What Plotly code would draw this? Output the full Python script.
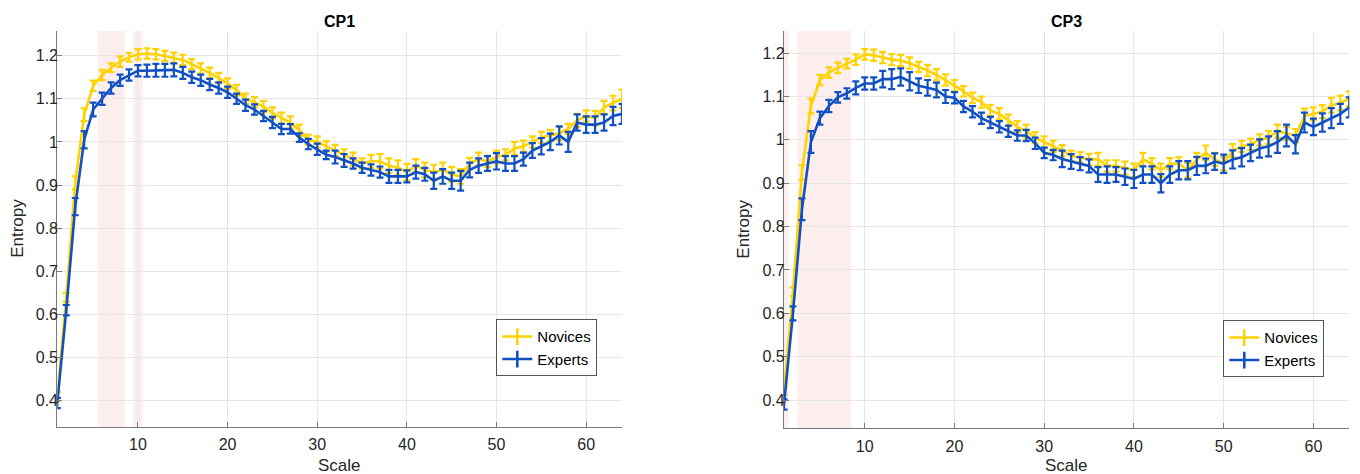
import plotly.graph_objects as go

W, H = 1360, 474

scale = list(range(1, 65))

cp1_novices = [0.41, 0.64, 0.905, 1.063, 1.13, 1.155, 1.172, 1.186, 1.196, 1.203,
               1.205, 1.203, 1.199, 1.195, 1.19, 1.18, 1.17, 1.16, 1.148, 1.135,
               1.12, 1.10, 1.092, 1.082, 1.067, 1.055, 1.045, 1.027, 1.005, 1.0,
               0.99, 0.98, 0.97, 0.96, 0.95, 0.955, 0.955, 0.945, 0.94, 0.93,
               0.945, 0.935, 0.93, 0.935, 0.925, 0.92, 0.95, 0.96, 0.955, 0.965,
               0.97, 0.985, 0.99, 1.0, 1.01, 1.015, 1.02, 1.03, 1.05, 1.06,
               1.055, 1.08, 1.09, 1.1]
cp1_novices_err = [0.01, 0.01, 0.015, 0.015, 0.012, 0.012, 0.01, 0.012, 0.01, 0.012,
                   0.012, 0.012, 0.012, 0.012, 0.012, 0.012, 0.012, 0.012, 0.012, 0.012,
                   0.012, 0.012, 0.012, 0.013, 0.013, 0.013, 0.014, 0.013, 0.012, 0.013,
                   0.012, 0.013, 0.013, 0.015, 0.012, 0.015, 0.017, 0.017, 0.017, 0.019,
                   0.015, 0.017, 0.017, 0.017, 0.017, 0.017, 0.013, 0.015, 0.013, 0.015,
                   0.013, 0.015, 0.013, 0.013, 0.013, 0.013, 0.015, 0.012, 0.015, 0.013,
                   0.017, 0.015, 0.017, 0.021]
cp1_experts = [0.395, 0.61, 0.85, 1.005, 1.075, 1.10, 1.125, 1.143, 1.155, 1.165,
               1.165, 1.166, 1.166, 1.167, 1.16, 1.15, 1.143, 1.133, 1.125, 1.115,
               1.10, 1.085, 1.075, 1.06, 1.045, 1.03, 1.03, 1.01, 0.995, 0.983,
               0.97, 0.965, 0.957, 0.95, 0.94, 0.935, 0.93, 0.92, 0.92, 0.92,
               0.93, 0.925, 0.91, 0.92, 0.91, 0.91, 0.935, 0.945, 0.95, 0.955,
               0.95, 0.95, 0.96, 0.98, 0.99, 1.0, 1.015, 1.0, 1.045, 1.04,
               1.04, 1.045, 1.06, 1.065]
cp1_experts_err = [0.012, 0.012, 0.02, 0.02, 0.016, 0.014, 0.013, 0.013, 0.013, 0.013,
                   0.014, 0.015, 0.015, 0.015, 0.014, 0.013, 0.013, 0.013, 0.013, 0.013,
                   0.012, 0.013, 0.012, 0.012, 0.013, 0.012, 0.011, 0.01, 0.012, 0.013,
                   0.01, 0.015, 0.015, 0.012, 0.012, 0.013, 0.013, 0.015, 0.015, 0.014,
                   0.015, 0.015, 0.019, 0.017, 0.019, 0.023, 0.017, 0.017, 0.017, 0.019,
                   0.017, 0.017, 0.015, 0.017, 0.019, 0.019, 0.021, 0.023, 0.019, 0.019,
                   0.019, 0.019, 0.021, 0.023]

cp3_novices = [0.42, 0.65, 0.925, 1.078, 1.138, 1.155, 1.166, 1.176, 1.185, 1.197,
               1.195, 1.19, 1.185, 1.183, 1.177, 1.168, 1.16, 1.15, 1.138, 1.125,
               1.112, 1.097, 1.087, 1.068, 1.06, 1.045, 1.03, 1.02, 1.005, 0.995,
               0.985, 0.975, 0.963, 0.96, 0.955, 0.955, 0.94, 0.94, 0.935, 0.93,
               0.955, 0.945, 0.93, 0.945, 0.945, 0.93, 0.955, 0.97, 0.955, 0.945,
               0.975, 0.985, 0.99, 1.0, 1.005, 1.02, 1.015, 1.01, 1.055, 1.06,
               1.065, 1.08, 1.085, 1.095]
cp3_novices_err = [0.008, 0.01, 0.017, 0.017, 0.012, 0.012, 0.012, 0.011, 0.012, 0.012,
                   0.013, 0.013, 0.013, 0.013, 0.013, 0.012, 0.013, 0.013, 0.013, 0.013,
                   0.012, 0.012, 0.013, 0.013, 0.013, 0.013, 0.013, 0.015, 0.013, 0.013,
                   0.013, 0.013, 0.012, 0.012, 0.013, 0.015, 0.013, 0.013, 0.015, 0.015,
                   0.015, 0.013, 0.015, 0.013, 0.015, 0.017, 0.015, 0.017, 0.015, 0.015,
                   0.015, 0.013, 0.013, 0.013, 0.015, 0.015, 0.015, 0.015, 0.017, 0.015,
                   0.015, 0.017, 0.017, 0.017]
cp3_experts = [0.39, 0.60, 0.84, 0.995, 1.05, 1.078, 1.098, 1.107, 1.12, 1.13,
               1.13, 1.14, 1.14, 1.145, 1.135, 1.125, 1.12, 1.115, 1.10, 1.097,
               1.077, 1.065, 1.05, 1.04, 1.03, 1.02, 1.01, 1.01, 0.992, 0.97,
               0.965, 0.956, 0.95, 0.945, 0.94, 0.92, 0.92, 0.92, 0.915, 0.91,
               0.92, 0.92, 0.90, 0.92, 0.93, 0.93, 0.94, 0.94, 0.95, 0.945,
               0.955, 0.96, 0.97, 0.98, 0.985, 0.995, 1.01, 0.99, 1.04, 1.03,
               1.04, 1.05, 1.06, 1.075]
cp3_experts_err = [0.012, 0.016, 0.025, 0.025, 0.015, 0.014, 0.012, 0.012, 0.015, 0.014,
                   0.014, 0.019, 0.023, 0.02, 0.021, 0.017, 0.018, 0.017, 0.015, 0.013,
                   0.013, 0.013, 0.013, 0.013, 0.013, 0.013, 0.012, 0.013, 0.013, 0.012,
                   0.012, 0.019, 0.017, 0.015, 0.015, 0.017, 0.019, 0.017, 0.019, 0.021,
                   0.019, 0.019, 0.021, 0.019, 0.021, 0.021, 0.021, 0.017, 0.019, 0.021,
                   0.021, 0.021, 0.019, 0.021, 0.023, 0.025, 0.025, 0.021, 0.023, 0.019,
                   0.021, 0.023, 0.023, 0.023]

cp1_shaded = [(5.5, 8.5), (9.5, 10.5)]
cp3_shaded = [(0.5, 1.5), (2.5, 8.5)]

titles = ["CP1", "CP3"]
series_names = ["Novices", "Experts"]
x_ticks = [10, 20, 30, 40, 50, 60]
y_ticks = [0.4, 0.5, 0.6, 0.7, 0.8, 0.9, 1.0, 1.1, 1.2]
y_tick_text = ["0.4", "0.5", "0.6", "0.7", "0.8", "0.9", "1", "1.1", "1.2"]

YELLOW = "#FFD200"
BLUE = "#1150C4"
FONT = "Liberation Sans, Arial, sans-serif"
TXT = "#262626"

def px_x(p):
    return p / W

def px_y(p):
    return 1 - p / H

panels = [
    dict(xdom=[px_x(57.3), px_x(622.0)], ydom=[px_y(426.7), px_y(31.0)], yr=[0.34, 1.257],
         nov=cp1_novices, nov_e=cp1_novices_err, exp=cp1_experts, exp_e=cp1_experts_err,
         shaded=cp1_shaded, legend_xy=(496.3, 319.3)),
    dict(xdom=[px_x(784.0), px_x(1349.3)], ydom=[px_y(428.3), px_y(31.0)], yr=[0.335, 1.251],
         nov=cp3_novices, nov_e=cp3_novices_err, exp=cp3_experts, exp_e=cp3_experts_err,
         shaded=cp3_shaded, legend_xy=(1223.3, 320.3)),
]

fig = go.Figure()
layout = dict(width=W, height=H, autosize=False,
              margin=dict(l=0, r=0, t=0, b=0),
              paper_bgcolor="white", plot_bgcolor="white",
              font=dict(family=FONT, size=16, color=TXT),
              shapes=[], annotations=[])

for i, p in enumerate(panels):
    k = "" if i == 0 else str(i + 1)
    xa, ya = "x" + k, "y" + k
    leg = "legend" + k
    for name, vals, errs, col in [(series_names[0], p["nov"], p["nov_e"], YELLOW),
                                  (series_names[1], p["exp"], p["exp_e"], BLUE)]:
        fig.add_trace(go.Scatter(
            x=scale, y=vals, mode="lines", name=name, showlegend=False,
            line=dict(color=col, width=2.6),
            error_y=dict(type="data", array=errs, visible=True, color=col,
                         thickness=2.2, width=3.5),
            xaxis=xa, yaxis=ya, hoverinfo="skip"))
        fig.add_trace(go.Scatter(
            x=[None], y=[None], mode="lines+markers", name=name, legend=leg,
            line=dict(color=col, width=2.6),
            marker=dict(symbol="line-ns-open", size=12, color=col,
                        line=dict(color=col, width=2.6)),
            xaxis=xa, yaxis=ya))

    layout["xaxis" + k] = dict(
        domain=p["xdom"], anchor=ya, range=[1, 64], tickvals=x_ticks,
        showgrid=True, gridcolor="#e6e6e6", gridwidth=1, zeroline=False,
        showline=True, linecolor="#7a7a7a", linewidth=1.2,
        ticks="inside", ticklen=5, tickcolor="#7a7a7a", tickwidth=1.2,
        ticklabelstandoff=3, tickfont=dict(size=16, color=TXT, family=FONT))
    layout["yaxis" + k] = dict(
        domain=p["ydom"], anchor=xa, range=p["yr"], tickvals=y_ticks, ticktext=y_tick_text,
        showgrid=True, gridcolor="#e6e6e6", gridwidth=1, zeroline=False,
        showline=True, linecolor="#7a7a7a", linewidth=1.2,
        ticks="inside", ticklen=5, tickcolor="#7a7a7a", tickwidth=1.2,
        ticklabelstandoff=-5, tickfont=dict(size=16, color=TXT, family=FONT))

    for (a, b) in p["shaded"]:
        layout["shapes"].append(dict(type="rect", xref=xa, yref=ya + " domain",
                                     x0=a, x1=b, y0=0, y1=1, layer="below",
                                     fillcolor="#fdeeee", line=dict(width=0)))

    lx, ly = p["legend_xy"]
    layout[leg] = dict(x=px_x(lx), y=px_y(ly), xanchor="left", yanchor="top",
                       xref="paper", yref="paper",
                       bgcolor="white", bordercolor="#555555", borderwidth=1,
                       font=dict(size=15, color="black", family=FONT),
                       tracegroupgap=0, itemwidth=30)

    cx = (p["xdom"][0] + p["xdom"][1]) / 2
    layout["annotations"].append(dict(text="<b>" + titles[i] + "</b>", x=cx, y=px_y(21),
                                      xref="paper", yref="paper", showarrow=False,
                                      xanchor="center", yanchor="middle",
                                      font=dict(size=16, color="black", family=FONT)))
    layout["annotations"].append(dict(text="Scale", x=cx, y=px_y(465),
                                      xref="paper", yref="paper", showarrow=False,
                                      xanchor="center", yanchor="middle",
                                      font=dict(size=17, color=TXT, family=FONT)))
    ex = 18 if i == 0 else 744
    ey = (p["ydom"][0] + p["ydom"][1]) / 2
    layout["annotations"].append(dict(text="Entropy", x=px_x(ex), y=ey, textangle=-90,
                                      xref="paper", yref="paper", showarrow=False,
                                      xanchor="center", yanchor="middle",
                                      font=dict(size=17, color=TXT, family=FONT)))

fig.update_layout(**layout)
fig.write_html("out.html")
